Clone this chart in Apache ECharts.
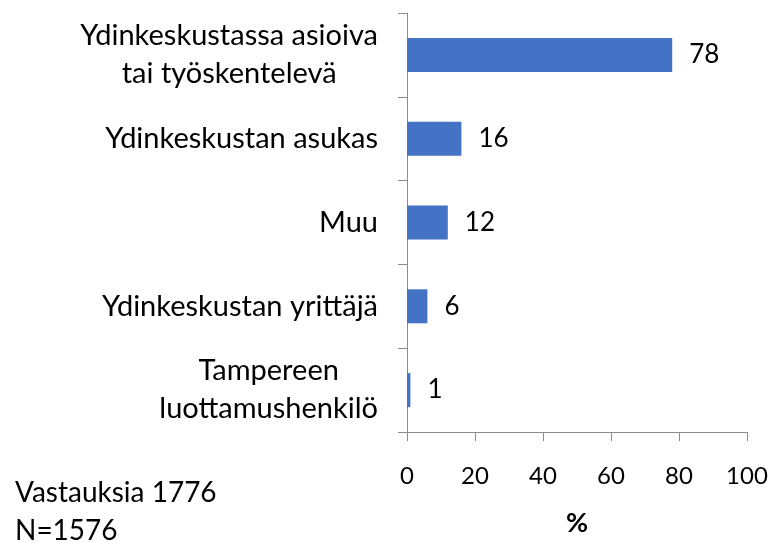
<!DOCTYPE html>
<html>
<head>
<meta charset="utf-8">
<script src="https://cdn.jsdelivr.net/npm/echarts@6/dist/echarts.min.js"></script>
<style>
  html, body { margin: 0; padding: 0; background: #fff; }
  #chart { width: 773px; height: 543px; }
</style>
</head>
<body>
<div id="chart"></div>
<script>
  // vastaajaryhmät ylhäältä alas
  const categories = [
    'Ydinkeskustassa asioiva\ntai työskentelevä',
    'Ydinkeskustan asukas',
    'Muu',
    'Ydinkeskustan yrittäjä',
    'Tampereen\nluottamushenkilö'
  ]
  const values = [78, 16, 12, 6, 1]
  const xTicks = [0, 20, 40, 60, 80, 100]
  const noteLines = ['Vastauksia 1776', 'N=1576']

  const font = 'Lato, "Open Sans", sans-serif'
  const axisGray = '#8c8c8c'

  let chart = echarts.init(document.getElementById('chart'))

  chart.setOption({
    animation: false,
    grid: {
      left: 407,
      top: 13,
      right: 26,
      bottom: 111
    },
    xAxis: {
      type: 'value',
      min: xTicks[0],
      max: xTicks[xTicks.length - 1],
      interval: 20,
      name: '%',
      nameLocation: 'middle',
      nameGap: 78,
      nameTextStyle: {
        fontFamily: font,
        fontSize: 27,
        fontWeight: 'bold',
        color: '#000'
      },
      axisLine: {show: true, lineStyle: {color: axisGray, width: 1}},
      axisTick: {show: true, length: 9, lineStyle: {color: axisGray}},
      splitLine: {show: false},
      axisLabel: {
        margin: 32,
        fontFamily: font,
        fontSize: 24,
        color: '#000'
      }
    },
    yAxis: {
      type: 'category',
      inverse: true,
      data: categories,
      axisLine: {show: true, lineStyle: {color: axisGray, width: 1}},
      axisTick: {show: true, length: 9, lineStyle: {color: axisGray}},
      axisLabel: {
        margin: 29,
        align: 'right',
        // rivit keskitetään toisiinsa nähden
        formatter: function (value) {
          return value.split('\n').map(function (s) { return '{c|' + s + '}' }).join('\n')
        },
        rich: {
          c: {
            align: 'center',
            fontFamily: font,
            fontSize: 29,
            lineHeight: 38,
            color: '#000'
          }
        }
      }
    },
    series: [
      {
        type: 'bar',
        data: values,
        barWidth: 34,
        itemStyle: {color: '#4472c4'},
        label: {
          show: true,
          position: 'right',
          distance: 17,
          fontFamily: font,
          fontSize: 26,
          color: '#000'
        }
      }
    ],
    graphic: [
      {
        type: 'text',
        left: 15,
        top: 474,
        style: {
          text: noteLines.join('\n'),
          fontFamily: font,
          fontSize: 28,
          lineHeight: 38,
          fill: '#000'
        }
      }
    ]
  })
</script>
</body>
</html>
